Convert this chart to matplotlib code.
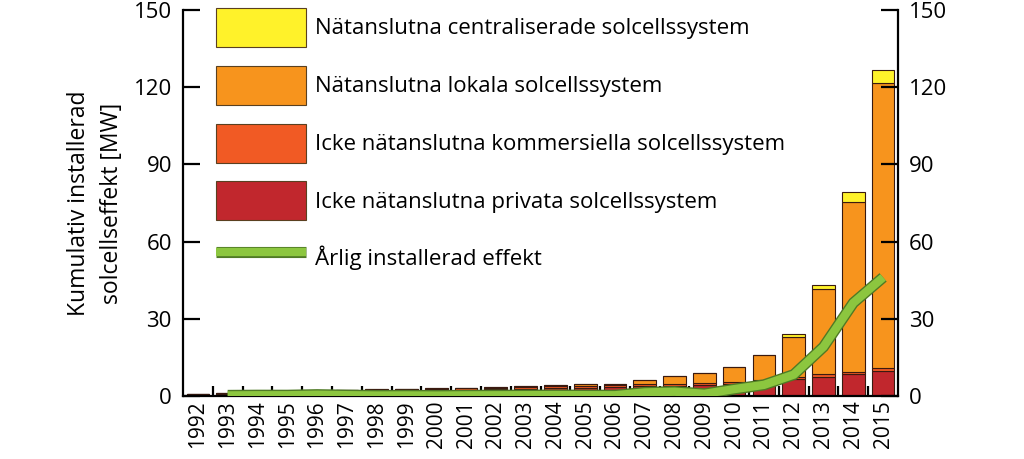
import numpy as np
import matplotlib
matplotlib.use("Agg")
import matplotlib.pyplot as plt
import matplotlib.patheffects as pe
from matplotlib.patches import Patch
from matplotlib.lines import Line2D

plt.rcParams['font.family'] = ['Open Sans', 'DejaVu Sans']

years = list(range(1992, 2016))
# cumulative installed power [MW] per segment
private_offgrid = [0.6, 0.8, 1.0, 1.2, 1.6, 1.9, 2.0, 2.2, 2.3, 2.5, 2.7, 2.9,
                   3.1, 3.3, 3.5, 3.7, 3.9, 4.2, 4.7, 5.6, 6.5, 7.5, 8.6, 9.9]
commercial_offgrid = [0.2, 0.2, 0.3, 0.4, 0.5, 0.5, 0.5, 0.5, 0.5, 0.6, 0.6, 0.7,
                      0.7, 0.7, 0.8, 0.8, 0.8, 0.8, 0.9, 0.8, 1.0, 0.9, 0.9, 0.9]
grid_local = [0.0, 0.03, 0.03, 0.02, 0.03, 0.05, 0.14, 0.17, 0.24, 0.19, 0.27, 0.28,
              0.44, 0.56, 0.55, 1.74, 3.21, 3.76, 5.83, 9.36, 15.36, 33.2, 65.9, 111.0]
grid_central = [0, 0, 0, 0, 0, 0, 0, 0, 0, 0, 0, 0,
                0, 0, 0, 0, 0, 0, 0, 0, 1.2, 1.6, 4.0, 4.7]
# annual installed power, from 1993
annual_years = list(range(1993, 2016))
annual = [0.23, 0.30, 0.29, 0.51, 0.32, 0.19, 0.23, 0.17, 0.25, 0.28, 0.31, 0.36,
          0.32, 0.29, 1.39, 1.67, 0.85, 2.67, 4.33, 8.3, 19.1, 36.2, 46.1]

labels = ['Nätanslutna centraliserade solcellssystem',
          'Nätanslutna lokala solcellssystem',
          'Icke nätanslutna kommersiella solcellssystem',
          'Icke nätanslutna privata solcellssystem',
          'Årlig installerad effekt']
colors = ['#FFF22A', '#F7941D', '#F15A24', '#C1272D']
green = '#8CC63F'

fig = plt.figure(figsize=(10.24, 4.59), dpi=100)
ax = fig.add_axes([183 / 1024, 1 - 396 / 459, 715 / 1024, 386 / 459])

x = np.arange(len(years))
edge = dict(edgecolor='#3a1a10', linewidth=0.8, width=0.76)
b = np.zeros(len(years))
for vals, col in zip([private_offgrid, commercial_offgrid, grid_local, grid_central],
                     [colors[3], colors[2], colors[1], colors[0]]):
    vals = np.array(vals, dtype=float)
    ax.bar(x, vals, bottom=b, color=col, **edge)
    b += vals

ax_x = [years.index(y) for y in annual_years]
line_fx = [pe.Stroke(linewidth=8, foreground='#4f7a25'), pe.Normal()]
ax.plot(ax_x, annual, color=green, linewidth=6, solid_capstyle='butt',
        solid_joinstyle='miter', path_effects=line_fx, zorder=5)

ax.set_xlim(-0.5, len(years) - 0.5)
ax.set_ylim(0, 150)
ax.spines['top'].set_visible(False)
for s in ['left', 'right', 'bottom']:
    ax.spines[s].set_linewidth(1.6)

ax.set_yticks(np.arange(0, 151, 30))
ax.tick_params(axis='y', direction='in', length=12, width=1.6, labelsize=16,
               left=True, right=True, labelleft=True, labelright=True, pad=8)
ax.set_xticks(x)
ax.set_xticklabels([str(y) for y in years], rotation=90, fontsize=15)
ax.set_xticks(x[:-1] + 0.5, minor=True)
ax.tick_params(axis='x', which='major', length=0, pad=3)
ax.tick_params(axis='x', which='minor', direction='in', length=7, width=1.6)

ax.set_ylabel('Kumulativ installerad\nsolcellseffekt [MW]', fontsize=16.5, labelpad=7,
              linespacing=1.5)

handles = [Patch(facecolor=c, edgecolor='#5a4020', linewidth=0.8) for c in colors]
handles.append(Line2D([0], [0], color=green, linewidth=6, solid_capstyle='butt',
                      path_effects=line_fx))
fig.legend(handles, labels, loc='upper left',
           bbox_to_anchor=(216 / 1024, 1 - 8 / 459), frameon=False, fontsize=16,
           handlelength=4.05, handleheight=2.33, labelspacing=0.84,
           handletextpad=0.4, borderpad=0, borderaxespad=0)

fig.savefig('out.png', dpi=100)
